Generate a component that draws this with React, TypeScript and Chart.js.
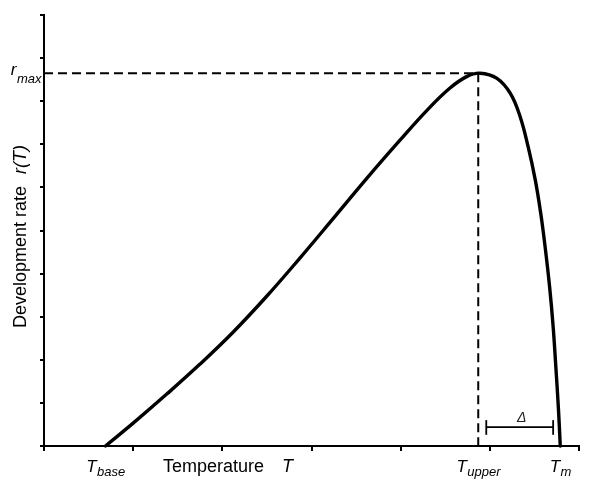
import React, { useEffect, useRef } from "react";
import { Chart, registerables } from "chart.js";

Chart.register(...registerables);

const FONT = '"Liberation Sans", Arial, Helvetica, sans-serif';

// Temperature (x, arbitrary units) and development rate (y) along the curve
const curveT = [0.69, 1.0, 1.38, 1.75, 2.12, 2.5, 2.87, 3.24, 3.62, 3.99, 4.3, 4.55, 4.74, 4.89, 5.08, 5.23, 5.34, 5.43, 5.51, 5.57, 5.62, 5.67, 5.71, 5.74, 5.77, 5.79];
const curveR = [0, 0.53, 1.21, 1.9, 2.64, 3.48, 4.36, 5.27, 6.21, 7.09, 7.8, 8.3, 8.57, 8.65, 8.53, 8.18, 7.64, 6.94, 6.17, 5.41, 4.62, 3.7, 2.77, 1.84, 0.84, 0];

// Key temperatures shown as axis labels
const keyTempSubs = ["base", "upper", "m"];
const keyTempValues = [0.69, 4.87, 5.79];

const rMax = 8.65;
const tUpper = 4.87;

// Delta bracket (x range, y level, cap range)
const deltaX = [4.96, 5.71];
const deltaY = 0.44;
const deltaCap = [0.26, 0.6];

const xRange = [0, 6];
const yRange = [0, 10];

const labelPlugin = {
  id: "labels",
  afterDraw(chart: any) {
    const ctx = chart.ctx;
    const xs = chart.scales.x;
    const ys = chart.scales.y;
    ctx.save();
    ctx.fillStyle = "#000";
    ctx.textBaseline = "alphabetic";
    ctx.textAlign = "left";

    const mainFont = `italic 17px ${FONT}`;
    const subFont = `italic 13px ${FONT}`;

    const subLabel = (x: number, y: number, main: string, sub: string, align: string, subDy: number) => {
      ctx.font = mainFont;
      const wm = ctx.measureText(main).width;
      ctx.font = subFont;
      const ws = ctx.measureText(sub).width;
      const total = wm + ws;
      let start = x - total / 2;
      if (align === "right") start = x - total;
      ctx.font = mainFont;
      ctx.fillText(main, start, y);
      ctx.font = subFont;
      ctx.fillText(sub, start + wm + 0.5, y + subDy);
    };

    // x key labels
    keyTempValues.forEach((v, i) => {
      subLabel(xs.getPixelForValue(v), 472, "T", keyTempSubs[i], "center", 4);
    });

    // r_max
    const ry = ys.getPixelForValue(rMax);
    subLabel(41, ry + 2, "r", "max", "right", 8);

    // x title
    ctx.font = `18px ${FONT}`;
    const tw = ctx.measureText("Temperature").width;
    const tx = 163;
    ctx.fillText("Temperature", tx, 472);
    ctx.font = `italic 18px ${FONT}`;
    ctx.fillText("T", tx + tw + 18, 472);

    // y title
    ctx.save();
    ctx.translate(26, 0);
    ctx.rotate(-Math.PI / 2);
    ctx.font = `18px ${FONT}`;
    const w1 = ctx.measureText("Development rate").width;
    ctx.fillText("Development rate", -328, 0);
    ctx.font = `italic 18px ${FONT}`;
    ctx.fillText("r(T)", -328 + w1 + 12, 0);
    ctx.restore();

    // Delta label
    ctx.font = `italic 14px ${FONT}`;
    ctx.fillStyle = "#222";
    ctx.textAlign = "center";
    const dx = (xs.getPixelForValue(deltaX[0]) + xs.getPixelForValue(deltaX[1])) / 2;
    ctx.fillText("\u0394", dx + 2, ys.getPixelForValue(deltaY) - 5);
    ctx.restore();
  },
};

export default function App() {
  const ref = useRef<HTMLCanvasElement>(null);
  useEffect(() => {
    const canvas = ref.current!;
    const line = (data: any[], width: number, dash: number[] = []) => ({
      data,
      borderColor: "#000",
      borderWidth: width,
      borderDash: dash,
      pointRadius: 0,
      fill: false,
      clip: false,
      tension: 0,
    });
    const chart = new Chart(canvas, {
      type: "line",
      data: {
        datasets: [
          {
            ...line(curveT.map((t, i) => ({ x: t, y: curveR[i] })), 3.4),
            tension: 0.4,
            borderCapStyle: "round",
            borderJoinStyle: "round",
          } as any,
          line([{ x: xRange[0], y: rMax }, { x: tUpper, y: rMax }], 2, [9, 5]),
          line([{ x: tUpper, y: rMax }, { x: tUpper, y: yRange[0] }], 2, [9, 5]),
          line([{ x: deltaX[0], y: deltaY }, { x: deltaX[1], y: deltaY }], 1.8),
          line([{ x: deltaX[0], y: deltaCap[0] }, { x: deltaX[0], y: deltaCap[1] }], 1.8),
          line([{ x: deltaX[1], y: deltaCap[0] }, { x: deltaX[1], y: deltaCap[1] }], 1.8),
        ],
      },
      options: {
        animation: false,
        responsive: false,
        events: [],
        layout: { padding: { top: 15, right: 21, left: 0, bottom: 0 } },
        plugins: { legend: { display: false }, tooltip: { enabled: false } },
        scales: {
          x: {
            type: "linear",
            min: xRange[0],
            max: xRange[1],
            ticks: { stepSize: 1, display: false },
            grid: { drawOnChartArea: false, drawTicks: true, tickLength: 5, color: "#000", lineWidth: 2 },
            border: { display: true, color: "#000", width: 2 },
            afterFit: (s: any) => {
              s.height = 52;
            },
          },
          y: {
            type: "linear",
            min: yRange[0],
            max: yRange[1],
            ticks: { stepSize: 1, display: false },
            grid: { drawOnChartArea: false, drawTicks: true, tickLength: 4, color: "#000", lineWidth: 2 },
            border: { display: true, color: "#000", width: 2 },
            afterFit: (s: any) => {
              s.width = 44;
            },
          },
        },
      } as any,
      plugins: [labelPlugin],
    });
    return () => chart.destroy();
  }, []);
  return (
    <div style={{ position: "absolute", left: 0, top: 0, width: 600, height: 498, background: "#fff" }}>
      <canvas ref={ref} width={600} height={498} />
    </div>
  );
}
